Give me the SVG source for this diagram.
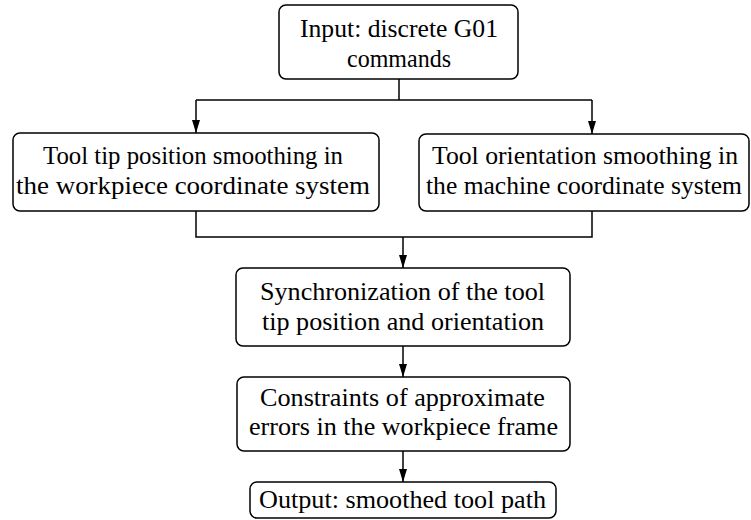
<svg xmlns="http://www.w3.org/2000/svg" width="751" height="520" viewBox="0 0 751 520">
  <defs>
    <marker id="arrow" viewBox="0 0 13 8" refX="13" refY="4" markerWidth="13" markerHeight="8" markerUnits="userSpaceOnUse" orient="auto">
      <path d="M0,0 L13,4 L0,8 z" fill="#000"/>
    </marker>
  </defs>
  <style>
    .box { fill: #fff; stroke: #000; stroke-width: 1.5; }
    .lbl { font-family: "Liberation Serif", "Times New Roman", serif; font-size: 25.5px; fill: #000; text-anchor: middle; }
    .conn { fill: none; stroke: #000; stroke-width: 1.5; }
  </style>
  <rect width="751" height="520" fill="#fff"/>

  <g id="connectors">
    <path class="conn" d="M399,79 V100"/>
    <path class="conn" d="M196,100 H592"/>
    <path class="conn" d="M196,100 V133" marker-end="url(#arrow)"/>
    <path class="conn" d="M592,100 V134" marker-end="url(#arrow)"/>
    <path class="conn" d="M196,211 V237 H592 V211"/>
    <path class="conn" d="M403,237 V268" marker-end="url(#arrow)"/>
    <path class="conn" d="M403,346 V377" marker-end="url(#arrow)"/>
    <path class="conn" d="M403,451 V482" marker-end="url(#arrow)"/>
  </g>

  <g id="input">
    <rect class="box" x="279" y="5" width="239" height="74" rx="7"/>
    <text class="lbl" x="399" y="36.7" textLength="198" lengthAdjust="spacingAndGlyphs">Input: discrete G01</text>
    <text class="lbl" x="399" y="66.7" textLength="104" lengthAdjust="spacingAndGlyphs">commands</text>
  </g>

  <g id="tip-smoothing">
    <rect class="box" x="13" y="133" width="366" height="78" rx="7"/>
    <text class="lbl" x="193" y="163.5" textLength="300" lengthAdjust="spacingAndGlyphs">Tool tip position smoothing in</text>
    <text class="lbl" x="193" y="193.5" textLength="354" lengthAdjust="spacingAndGlyphs">the workpiece coordinate system</text>
  </g>

  <g id="orientation-smoothing">
    <rect class="box" x="419" y="134" width="330" height="77" rx="7"/>
    <text class="lbl" x="585" y="163.5" textLength="306" lengthAdjust="spacingAndGlyphs">Tool orientation smoothing in</text>
    <text class="lbl" x="584" y="193.5" textLength="316" lengthAdjust="spacingAndGlyphs">the machine coordinate system</text>
  </g>

  <g id="synchronization">
    <rect class="box" x="236" y="268" width="334" height="78" rx="7"/>
    <text class="lbl" x="402.5" y="300" textLength="285" lengthAdjust="spacingAndGlyphs">Synchronization of the tool</text>
    <text class="lbl" x="403" y="330" textLength="282" lengthAdjust="spacingAndGlyphs">tip position and orientation</text>
  </g>

  <g id="constraints">
    <rect class="box" x="237" y="377" width="333" height="74" rx="7"/>
    <text class="lbl" x="402.5" y="405.5" textLength="285" lengthAdjust="spacingAndGlyphs">Constraints of approximate</text>
    <text class="lbl" x="403.5" y="434.5" textLength="309" lengthAdjust="spacingAndGlyphs">errors in the workpiece frame</text>
  </g>

  <g id="output">
    <rect class="box" x="250" y="482" width="306" height="36" rx="7"/>
    <text class="lbl" x="402.5" y="507.5" textLength="287" lengthAdjust="spacingAndGlyphs">Output: smoothed tool path</text>
  </g>
</svg>
